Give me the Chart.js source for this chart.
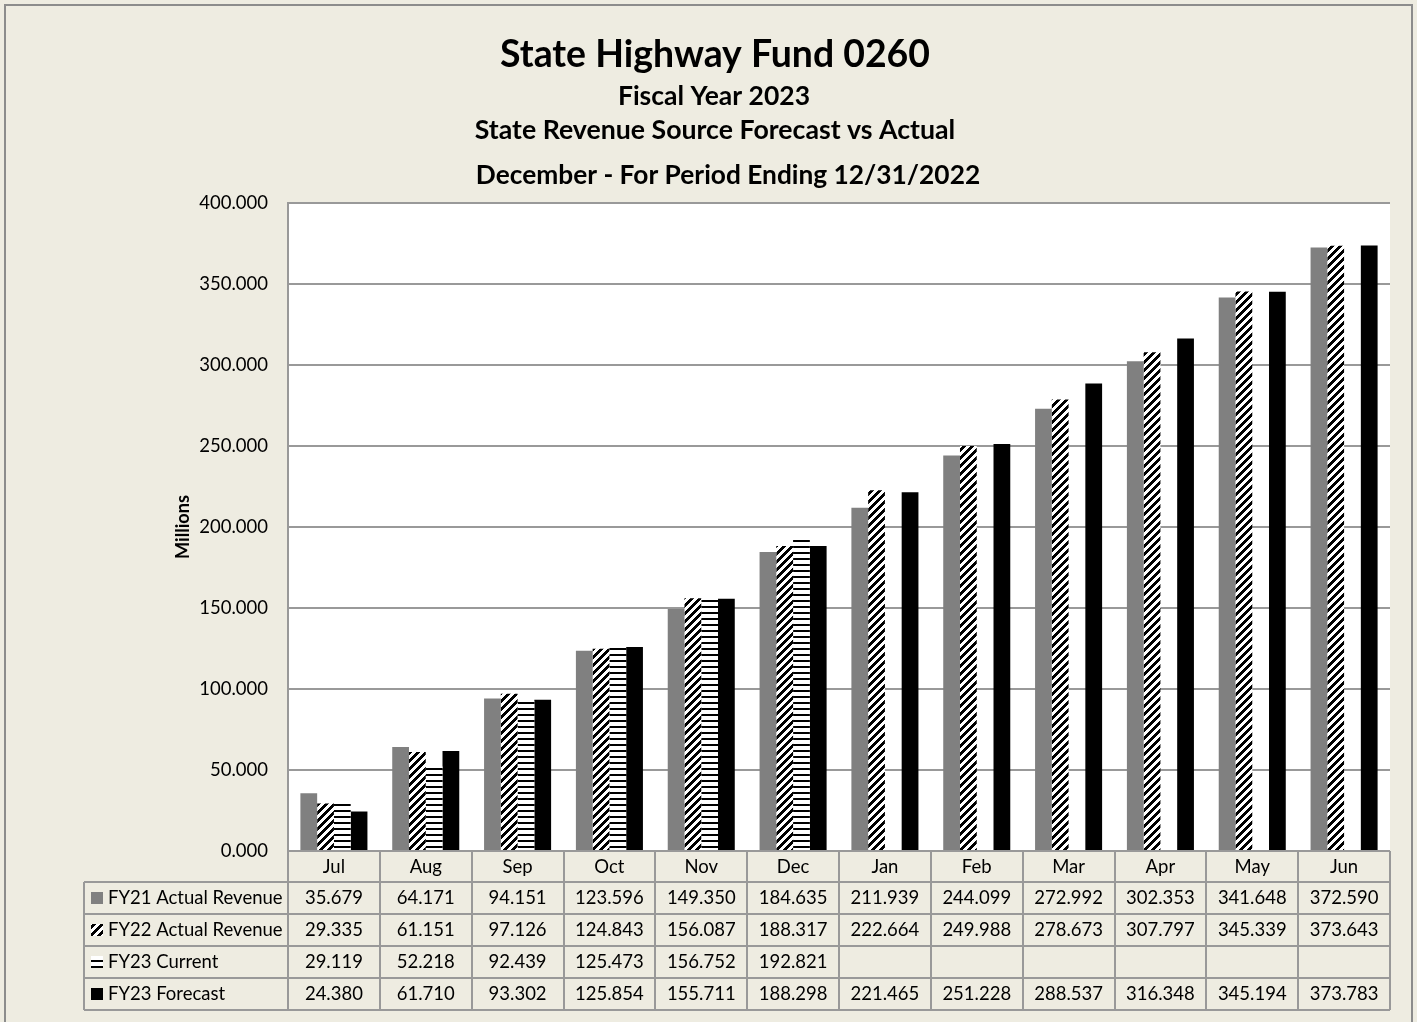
<!DOCTYPE html>
<html>
<head>
<meta charset="utf-8">
<script src="https://cdn.jsdelivr.net/npm/chart.js@4/dist/chart.umd.min.js"></script>
<style>
  html, body { margin: 0; padding: 0; background: #fff; }
</style>
</head>
<body>
<canvas id="myChart" width="1417" height="1022"></canvas>
<script>
'use strict';

var months = ['Jul', 'Aug', 'Sep', 'Oct', 'Nov', 'Dec', 'Jan', 'Feb', 'Mar', 'Apr', 'May', 'Jun'];
var fy21Actual = [35.679, 64.171, 94.151, 123.596, 149.350, 184.635, 211.939, 244.099, 272.992, 302.353, 341.648, 372.590];
var fy22Actual = [29.335, 61.151, 97.126, 124.843, 156.087, 188.317, 222.664, 249.988, 278.673, 307.797, 345.339, 373.643];
var fy23Current = [29.119, 52.218, 92.439, 125.473, 156.752, 192.821, null, null, null, null, null, null];
var fy23Forecast = [24.380, 61.710, 93.302, 125.854, 155.711, 188.298, 221.465, 251.228, 288.537, 316.348, 345.194, 373.783];
var seriesNames = ['FY21 Actual Revenue', 'FY22 Actual Revenue', 'FY23 Current', 'FY23 Forecast'];

var FONT = 'Lato, "Open Sans", sans-serif';
var BG = '#EEECE1';
var LINE = '#999999';

// fill patterns like the excel ones
function makePattern(w, h, fn) {
  var c = document.createElement('canvas');
  c.width = w; c.height = h;
  var g = c.getContext('2d');
  g.fillStyle = '#fff';
  g.fillRect(0, 0, w, h);
  g.fillStyle = '#000';
  for (var y = 0; y < h; y++) {
    for (var x = 0; x < w; x++) {
      if (fn(x, y)) g.fillRect(x, y, 1, 1);
    }
  }
  return g.createPattern(c, 'repeat');
}
var diagPattern = makePattern(8, 8, function(x, y) { return ((x + y) % 8) < 4; });
var horizPattern = makePattern(4, 6, function(x, y) { return y < 2; });

var fills = ['#808080', diagPattern, horizPattern, '#000000'];
var seriesData = [fy21Actual, fy22Actual, fy23Current, fy23Forecast];

function fitFont(ctx, text, width, weight) {
  ctx.font = weight + ' 40px ' + FONT;
  var size = 40 * width / ctx.measureText(text).width;
  ctx.font = weight + ' ' + size.toFixed(1) + 'px ' + FONT;
}

var decorPlugin = {
  id: 'decor',
  beforeDraw: function(chart) {
    var ctx = chart.ctx, a = chart.chartArea;
    ctx.save();
    ctx.fillStyle = BG;
    ctx.fillRect(0, 0, chart.width, chart.height);
    ctx.strokeStyle = '#8c8c8c';
    ctx.lineWidth = 2;
    ctx.strokeRect(5, 5, 1407, 1040);
    ctx.fillStyle = '#fff';
    ctx.fillRect(a.left, a.top, a.right - a.left, a.bottom - a.top);
    ctx.restore();
  },
  afterDraw: function(chart) {
    var ctx = chart.ctx, a = chart.chartArea;
    ctx.save();
    ctx.fillStyle = '#000';
    ctx.textAlign = 'center';
    ctx.textBaseline = 'middle';

    // titles
    fitFont(ctx, 'State Highway Fund 0260', 430, 'bold');
    ctx.fillText('State Highway Fund 0260', 715, 55);
    fitFont(ctx, 'Fiscal Year 2023', 192, 'bold');
    ctx.fillText('Fiscal Year 2023', 714, 96);
    fitFont(ctx, 'State Revenue Source Forecast vs Actual', 480, 'bold');
    ctx.fillText('State Revenue Source Forecast vs Actual', 715, 130);
    fitFont(ctx, 'December - For Period Ending 12/31/2022', 504, 'bold');
    ctx.fillText('December - For Period Ending 12/31/2022', 728, 176);

    // axis title
    ctx.save();
    ctx.translate(183, 527);
    ctx.rotate(-Math.PI / 2);
    fitFont(ctx, 'Millions', 64, 'bold');
    ctx.fillText('Millions', 0, 0);
    ctx.restore();

    // data table
    var catW = (a.right - a.left) / months.length;
    var headTop = a.bottom, headBot = a.bottom + 31, rowH = 32;
    var tableBot = headBot + rowH * 4;
    var legLeft = 84;

    ctx.strokeStyle = LINE;
    ctx.lineWidth = 2;
    ctx.beginPath();
    for (var i = 0; i <= months.length; i++) {
      var x = Math.round(a.left + i * catW);
      ctx.moveTo(x, headTop);
      ctx.lineTo(x, tableBot);
    }
    ctx.moveTo(legLeft, headBot);
    ctx.lineTo(legLeft, tableBot);
    ctx.moveTo(a.left, headTop);
    ctx.lineTo(a.right, headTop);
    for (var r = 0; r <= 4; r++) {
      var y = headBot + r * rowH;
      ctx.moveTo(legLeft, y);
      ctx.lineTo(a.right, y);
    }
    ctx.stroke();

    ctx.font = '18.5px ' + FONT;
    months.forEach(function(m, i) {
      var cx = chart.scales.x.getPixelForValue(i);
      ctx.fillText(m, cx, headTop + 16);
      seriesData.forEach(function(arr, s) {
        if (arr[i] !== null) ctx.fillText(arr[i].toFixed(3), cx, headBot + s * rowH + 16.5);
      });
    });

    ctx.textAlign = 'left';
    seriesNames.forEach(function(name, s) {
      var cy = headBot + s * rowH + 16;
      ctx.fillStyle = fills[s];
      ctx.fillRect(91, cy - 6, 12, 12);
      ctx.fillStyle = '#000';
      ctx.fillText(name, 108, cy + 0.5);
    });
    ctx.restore();
  }
};

var datasets = seriesNames.map(function(name, s) {
  return {
    label: name,
    data: seriesData[s],
    backgroundColor: fills[s],
    borderWidth: 0,
    categoryPercentage: 0.73,
    barPercentage: 1.0
  };
});

var ctx = document.getElementById('myChart');
var myChart = new Chart(ctx, {
  type: 'bar',
  data: { labels: months, datasets: datasets },
  options: {
    responsive: false,
    animation: false,
    layout: { padding: { top: 203, right: 27, bottom: 171, left: 0 } },
    plugins: {
      legend: { display: false },
      tooltip: { enabled: false }
    },
    scales: {
      x: { display: false },
      y: {
        min: 0,
        max: 400,
        afterFit: function(scale) { scale.width = 288; },
        ticks: {
          stepSize: 50,
          padding: 20,
          color: '#000',
          font: { family: FONT, size: 18.5 },
          callback: function(v) { return v.toFixed(3); }
        },
        grid: { color: LINE, lineWidth: 2, drawTicks: false },
        border: { display: true, color: LINE, width: 2 }
      }
    }
  },
  plugins: [decorPlugin]
});
</script>
</body>
</html>
